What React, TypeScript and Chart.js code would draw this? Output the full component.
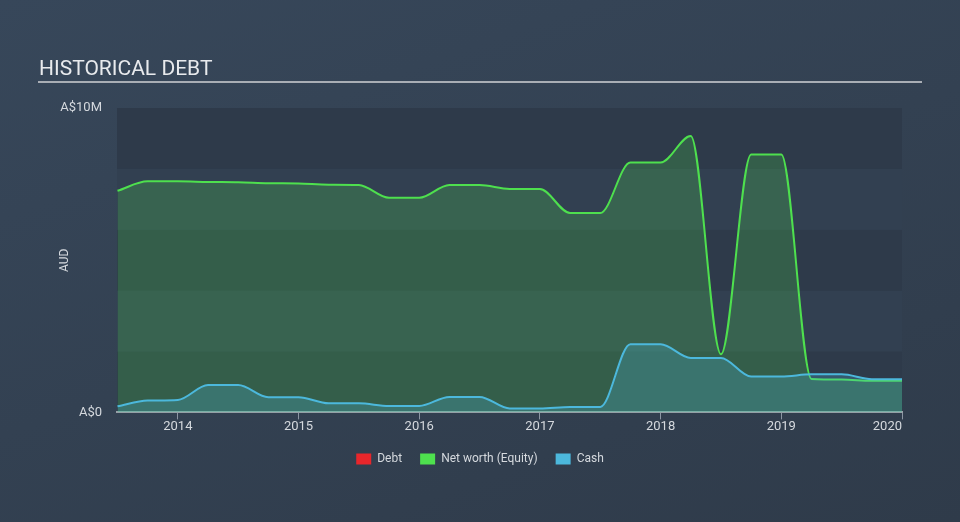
import React, { useEffect, useRef } from "react";
import { Chart, registerables } from "chart.js";

Chart.register(...registerables);

// Dates as fractional years
const dates = [
  2013.5, 2013.75, 2014.0, 2014.25, 2014.5, 2014.75, 2015.0, 2015.25, 2015.5,
  2015.75, 2016.0, 2016.25, 2016.5, 2016.75, 2017.0, 2017.25, 2017.5, 2017.75,
  2018.0, 2018.25, 2018.5, 2018.75, 2019.0, 2019.25, 2019.5, 2019.75, 2020.0,
];
// Values in A$ millions
const netWorth = [
  7.28, 7.59, 7.59, 7.57, 7.56, 7.53, 7.52, 7.48, 7.47, 7.05, 7.05, 7.47, 7.47,
  7.34, 7.34, 6.55, 6.55, 8.21, 8.21, 9.08, 1.91, 8.47, 8.47, 1.1, 1.08, 1.04,
  1.04,
];
const cash = [
  0.2, 0.39, 0.41, 0.9, 0.9, 0.5, 0.5, 0.3, 0.3, 0.21, 0.21, 0.51, 0.51, 0.13,
  0.13, 0.18, 0.18, 2.24, 2.24, 1.79, 1.79, 1.18, 1.18, 1.25, 1.25, 1.09, 1.09,
];
const debt: number[] = [];

const yearTicks = [2014, 2015, 2016, 2017, 2018, 2019, 2020];
const yTickValues = [0, 10];
const yBands = [0, 2, 4, 6, 8, 10];
const xMin = 2013.496;
const xMax = 2020.0;

const FONT = "Roboto, 'Open Sans', sans-serif";

const bandPlugin = {
  id: "bands",
  beforeDraw(chart: any) {
    const { ctx, chartArea, scales } = chart;
    const y = scales.y;
    ctx.save();
    for (let i = 0; i < yBands.length - 1; i++) {
      const top = y.getPixelForValue(yBands[i + 1]);
      const bottom = y.getPixelForValue(yBands[i]);
      ctx.fillStyle = i % 2 === 0 ? "#2e3a4a" : "#324051";
      ctx.fillRect(chartArea.left, top, chartArea.right - chartArea.left, bottom - top);
    }
    ctx.restore();
  },
};

const solid: Record<string, string> = {
  Debt: "#e8262b",
  "Net worth (Equity)": "#4ee04e",
  Cash: "#4cb8dc",
};

export default function App() {
  const ref = useRef<HTMLCanvasElement>(null);

  useEffect(() => {
    document.body.style.margin = "0";
    const toPts = (vals: number[]) => vals.map((v, i) => ({ x: dates[i], y: v }));
    const chart = new Chart(ref.current as HTMLCanvasElement, {
      type: "line",
      data: {
        datasets: [
          {
            label: "Debt",
            data: toPts(debt),
            borderColor: "#e8262b",
            backgroundColor: "#e8262b",
            pointRadius: 0,
            order: 0,
          },
          {
            label: "Net worth (Equity)",
            data: toPts(netWorth),
            borderColor: "#4ee04e",
            backgroundColor: "rgba(78,224,78,0.22)",
            borderWidth: 2,
            pointRadius: 0,
            fill: "origin",
            cubicInterpolationMode: "monotone",
            order: 2,
          },
          {
            label: "Cash",
            data: toPts(cash),
            borderColor: "#4cb8dc",
            backgroundColor: "rgba(76,184,220,0.25)",
            borderWidth: 2,
            pointRadius: 0,
            fill: "origin",
            cubicInterpolationMode: "monotone",
            order: 1,
          },
        ],
      },
      options: {
        animation: false,
        responsive: false,
        events: [],
        layout: { padding: { left: 0, top: 108, right: 0, bottom: 47 } },
        scales: {
          x: {
            type: "linear",
            min: xMin,
            max: xMax,
            afterBuildTicks: (scale: any) => {
              scale.ticks = [xMin, ...yearTicks].map((v) => ({ value: v }));
            },
            ticks: {
              align: "inner",
              padding: 0,
              color: "#d5d9de",
              font: { family: FONT, size: 13 },
              maxRotation: 0,
              autoSkip: false,
              callback: (v: any) => (v === xMin ? "" : String(v)),
            },
            grid: {
              display: true,
              drawOnChartArea: false,
              drawTicks: true,
              tickLength: 7,
              tickColor: (c: any) => (c.index === 0 ? "rgba(0,0,0,0)" : "#8c96a3"),
            },
            border: { display: true, color: "#9aa0a8", width: 2 },
          },
          y: {
            type: "linear",
            min: 0,
            max: 10,
            afterBuildTicks: (scale: any) => {
              scale.ticks = yTickValues.map((v) => ({ value: v }));
            },
            afterFit: (scale: any) => {
              scale.width = 117;
            },
            ticks: {
              padding: 15,
              color: "#d5d9de",
              font: { family: FONT, size: 13 },
              callback: (v: any) => (v === 0 ? "A$0" : "A$" + v + "M"),
            },
            grid: { display: false, drawTicks: false },
            border: { display: false },
            title: {
              display: true,
              text: "AUD",
              color: "#d5d9de",
              font: { family: FONT, size: 12 },
              padding: { top: 58, bottom: 0 },
            },
          },
          yRight: {
            type: "linear",
            position: "right",
            display: true,
            min: 0,
            max: 10,
            afterFit: (scale: any) => {
              scale.width = 58;
            },
            ticks: { display: false },
            grid: { display: false, drawTicks: false },
            border: { display: false },
          },
        },
        plugins: {
          legend: {
            position: "bottom",
            labels: {
              boxWidth: 15,
              boxHeight: 11,
              padding: 18,
              color: "#d5d9de",
              font: { family: FONT, size: 12 },
              sort: (a: any, b: any) => a.datasetIndex - b.datasetIndex,
              generateLabels: (ch: any) => {
                const items = Chart.defaults.plugins.legend.labels.generateLabels(ch);
                return items.map((it: any) => ({
                  ...it,
                  fillStyle: solid[it.text],
                  strokeStyle: solid[it.text],
                  lineWidth: 0,
                }));
              },
            },
          },
          tooltip: { enabled: false },
        },
      },
      plugins: [bandPlugin],
    } as any);
    return () => chart.destroy();
  }, []);

  return (
    <div
      style={{
        position: "fixed",
        left: 0,
        top: 0,
        width: 960,
        height: 522,
        overflow: "hidden",
        background: "linear-gradient(160deg, #37475a 0%, #334152 50%, #2f3b4a 100%)",
      }}
    >
      <canvas ref={ref} width={960} height={522} style={{ position: "absolute", left: 0, top: 0 }} />
      <div
        style={{
          position: "absolute",
          left: 39,
          top: 56,
          fontFamily: FONT,
          fontSize: 21,
          color: "#e8eaed",
          lineHeight: "24px",
          whiteSpace: "nowrap",
        }}
      >
        HISTORICAL DEBT
      </div>
      <div
        style={{
          position: "absolute",
          left: 38,
          top: 81,
          width: 884,
          height: 2,
          background: "#a9aeb5",
        }}
      />
    </div>
  );
}
